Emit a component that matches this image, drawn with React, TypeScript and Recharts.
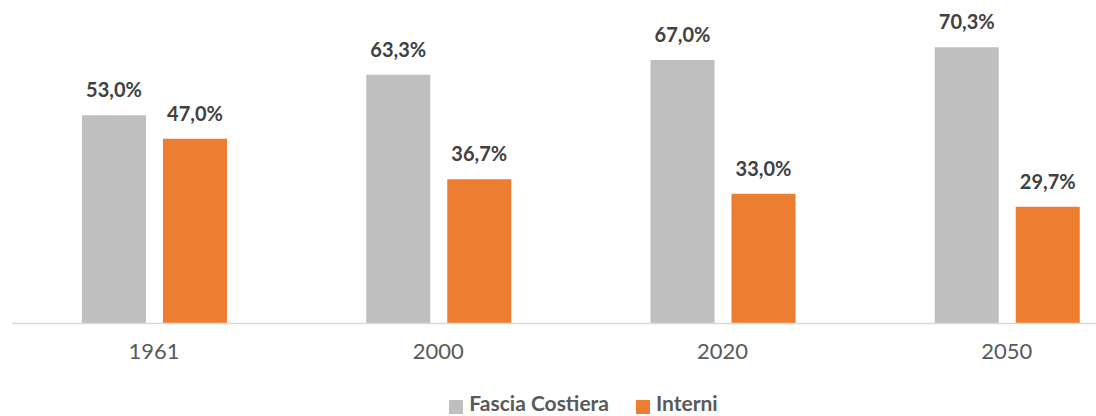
import { Bar, BarChart, LabelList, Legend, XAxis, YAxis } from "recharts";

const years = ["1961", "2000", "2020", "2050"];
const fasciaCostiera = [53.0, 63.3, 67.0, 70.3];
const interni = [47.0, 36.7, 33.0, 29.7];

const data = years.map((year, i) => ({
  year,
  costiera: fasciaCostiera[i],
  interni: interni[i],
}));

const FONT = "Lato, 'Open Sans', sans-serif";
const pct = (v: any) => `${Number(v).toFixed(1).replace(".", ",")}%`;

const labelStyle = {
  fill: "#404040",
  fontWeight: 700,
  fontSize: 20,
  fontFamily: FONT,
};

export default function App() {
  return (
    <div
      style={{
        position: "absolute",
        top: 0,
        left: 0,
        width: 1096,
        height: 416,
        overflow: "hidden",
        background: "#ffffff",
        fontFamily: FONT,
      }}
    >
      <BarChart
        width={1170}
        height={416}
        data={data}
        margin={{ top: 9, right: 21, left: 12, bottom: 0 }}
        barCategoryGap={70}
        barGap={17}
      >
        <XAxis
          dataKey="year"
          height={66.5}
          tickLine={false}
          axisLine={{ stroke: "#d9d9d9", strokeWidth: 1.5 }}
          tick={{ fill: "#595959", fontSize: 22, fontFamily: FONT }}
          tickMargin={14}
        />
        <YAxis hide domain={[0, 80]} />
        <Legend
          verticalAlign="bottom"
          iconType="square"
          iconSize={14}
          formatter={(value, _entry, index) => (
            <span
              style={{
                color: "#595959",
                fontWeight: 700,
                fontSize: 21,
                fontFamily: FONT,
                marginLeft: 2,
                marginRight: index === 0 ? 17 : 0,
              }}
            >
              {value}
            </span>
          )}
          wrapperStyle={{ lineHeight: "24px", bottom: -1, left: 20 }}
        />
        <Bar
          dataKey="costiera"
          name="Fascia Costiera"
          fill="#bfbfbf"
          isAnimationActive={false}
        >
          <LabelList
            dataKey="costiera"
            position="top"
            offset={18}
            formatter={pct}
            style={labelStyle}
          />
        </Bar>
        <Bar
          dataKey="interni"
          name="Interni"
          fill="#ed7d31"
          isAnimationActive={false}
        >
          <LabelList
            dataKey="interni"
            position="top"
            offset={18}
            formatter={pct}
            style={labelStyle}
          />
        </Bar>
      </BarChart>
    </div>
  );
}
